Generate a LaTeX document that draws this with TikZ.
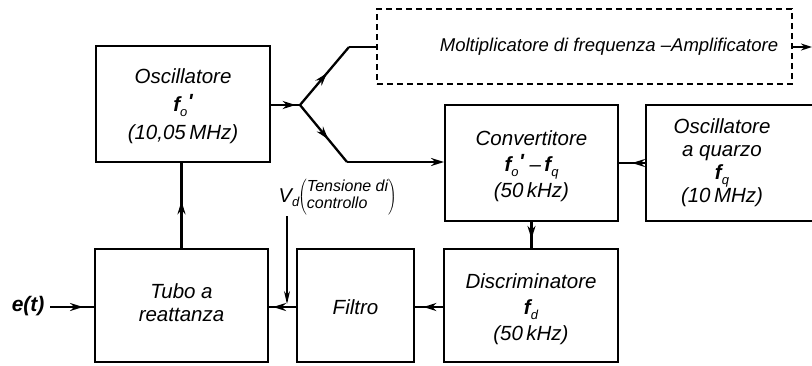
\documentclass[tikz,border=0pt]{standalone}
\usepackage{fontspec}
\setmainfont{Liberation Sans}
\usetikzlibrary{arrows.meta,decorations.markings}
\newcommand{\ffsym}[2]{{\bfseries f}\raisebox{-0.45ex}{\fontsize{13}{13}\selectfont #1}\raisebox{0.3ex}{\bfseries #2}}
\newcommand{\prm}{\kern0.5pt\textquotesingle}
\tikzset{
  blk/.style={draw, line width=1.9pt, rectangle, inner sep=0pt},
  txt/.style={align=center, font=\fontsize{20.5}{28}\selectfont\itshape},
  conn/.style={line width=2.3pt},
  tip/.style={-{Stealth[length=13pt,width=8pt]}},
  midarrow/.style={postaction={decorate},decoration={markings,mark=at position #1 with {\arrow{Stealth[length=13pt,width=8pt]}}}}
}
\begin{document}
\begin{tikzpicture}[x=1pt,y=-1pt]
\clip (0,0) rectangle (812,365);
\fill[white] (0,0) rectangle (812,365);
% boxes
\node[blk, minimum width=174pt, minimum height=116pt] (osc) at (183,104) {};
\node[txt] (osct) at (183,106) {Oscillatore\\\ffsym{o}{\prm}\\(10,05\,MHz)};
\node[blk, dashed, dash pattern=on 6pt off 4pt, line width=1.6pt, minimum width=415pt, minimum height=75pt] (mul) at (584.5,46.5) {};
\node[txt, font=\fontsize{18.5}{28}\selectfont\itshape] (mult) at (609,47) {Moltiplicatore di frequenza --Amplificatore};
\node[blk, minimum width=173pt, minimum height=116pt] (conv) at (531.5,163) {};
\node[txt, font=\fontsize{20.5}{26}\selectfont\itshape] (convt) at (531.5,166) {Convertitore\\\ffsym{o}{\prm}\;--\,\ffsym{q}{}\\(50\,kHz)};
\node[blk, minimum width=190pt, minimum height=116pt] (qz) at (741,163) {};
\node[txt, font=\fontsize{20.5}{23}\selectfont\itshape] (qzt) at (722,163) {Oscillatore\\a quarzo\\\ffsym{q}{}\\(10\,MHz)};
\node[blk, minimum width=174pt, minimum height=113pt] (disc) at (531,305.5) {};
\node[txt, font=\fontsize{20.5}{26}\selectfont\itshape] (disct) at (531,309) {Discriminatore\\\ffsym{d}{}\\(50\,kHz)};
\node[blk, minimum width=117pt, minimum height=113pt] (fil) at (355.5,305.5) {};
\node[txt] (filt) at (355.5,307) {Filtro};
\node[blk, minimum width=173pt, minimum height=113pt] (tubo) at (181.5,305.5) {};
\node[txt, font=\fontsize{20.5}{23}\selectfont\itshape] (tubot) at (181.5,303) {Tubo a\\reattanza};
% coordinates
\coordinate (F) at (300,105);
\coordinate (U) at (349,47);
\coordinate (L) at (347,162);
\coordinate (out) at (812,47);
\coordinate (vdtop) at (287,216);
\coordinate (vdbot) at (287,304);
\coordinate (ein) at (50,307);
% connectors
\draw[conn, midarrow=0.85] (osc.east |- F) -- (F);
\draw[conn, midarrow=0.55] (F) -- (U);
\draw[conn] (U) -- (mul.west |- U);
\draw[conn, midarrow=0.6] (F) -- (L);
\draw[conn, tip] (L) -- (conv.west |- L);
\draw[conn, midarrow=0.5] (qz.west |- 0,163) -- (conv.east |- 0,163);
\draw[conn, midarrow=0.65] (conv.south) -- (conv.south |- disc.north);
\draw[conn, midarrow=0.7] (disc.west |- 0,307) -- (fil.east |- 0,307);
\draw[conn, midarrow=0.85] (fil.west |- 0,307) -- (tubo.east |- 0,307);
\draw[conn, midarrow=0.55] (tubo.north) -- (tubo.north |- osc.south);
\draw[conn, midarrow=0.75] (ein) -- (tubo.west |- ein);
\draw[conn, -{Stealth[length=11pt,width=7pt]}] (mul.east |- out) -- (out);
\draw[line width=1.1pt, -{Stealth[length=13pt,width=6pt]}] (vdtop) -- (vdbot);
% labels
\node[font=\fontsize{21}{22}\selectfont\bfseries\itshape, anchor=east] (et) at (48,306) {e(t)};
\node[font=\fontsize{20}{22}\selectfont\itshape] (vd) at (289,198) {V\raisebox{-0.4ex}{\fontsize{13}{13}\selectfont d}};
\node[anchor=west, inner sep=0pt] (tc) at (298,197) {\fontsize{18}{18}\selectfont$\left(\vcenter{\hbox{\fontsize{16}{17}\selectfont\itshape\begin{tabular}{@{}l@{}}Tensione di\\controllo\end{tabular}}}\right)$};
\end{tikzpicture}
\end{document}
